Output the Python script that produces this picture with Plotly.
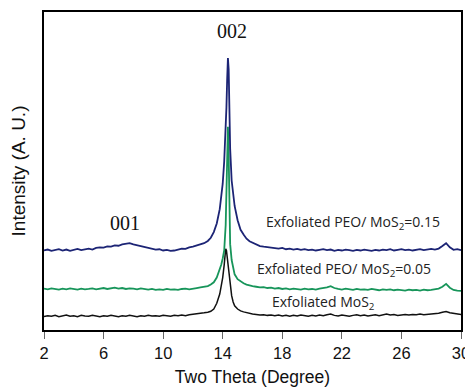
import plotly.graph_objects as go

# Two-theta grid (degrees)
two_theta = [
    2.0, 2.25, 2.5, 2.75, 3.0, 3.25, 3.5, 3.75, 4.0, 4.25, 4.5, 4.75,
    5.0, 5.25, 5.5, 5.75, 6.0, 6.25, 6.5, 6.75, 7.0, 7.25, 7.5, 7.75,
    8.0, 8.25, 8.5, 8.75, 9.0, 9.25, 9.5, 9.75, 10.0, 10.25, 10.5, 10.75,
    11.0, 11.25, 11.5, 11.75, 12.0, 12.25, 12.5, 12.75,
    13.0, 13.2, 13.4, 13.6, 13.8, 13.9, 14.0, 14.1, 14.2, 14.25, 14.3, 14.35,
    14.4, 14.45, 14.5, 14.6, 14.7, 14.8, 15.0, 15.2, 15.4, 15.6, 15.8,
    16.0, 16.25, 16.5, 16.75, 17.0, 17.25, 17.5, 17.75, 18.0, 18.25, 18.5, 18.75,
    19.0, 19.25, 19.5, 19.75, 20.0, 20.25, 20.5, 20.75, 21.0, 21.25, 21.5, 21.75,
    22.0, 22.25, 22.5, 22.75, 23.0, 23.25, 23.5, 23.75, 24.0, 24.25, 24.5, 24.75,
    25.0, 25.25, 25.5, 25.75, 26.0, 26.25, 26.5, 26.75, 27.0, 27.25, 27.5, 27.75,
    28.0, 28.25, 28.5, 28.75, 29.0, 29.25, 29.5, 29.75, 30.0,
]

# Exfoliated PEO/ MoS2 = 0.15 (offset trace, arbitrary units)
peo_015 = [
    25.0, 25.3, 24.9, 25.2, 25.4, 25.0, 25.3, 24.9, 25.2, 25.5, 25.1, 25.4,
    25.6, 25.3, 25.8, 26.0, 25.9, 26.3, 26.2, 26.6, 26.5, 26.9, 27.0, 27.3,
    26.9, 26.6, 26.4, 26.0, 25.8, 25.5, 25.3, 25.4, 25.0, 25.2, 24.9, 25.0,
    25.3, 25.6, 25.5, 26.0, 26.2, 26.5, 26.8, 27.3,
    28.0, 29.0, 30.8, 33.5, 38.0, 41.5, 46.0, 53.0, 62.0, 70.0, 79.0, 85.5,
    82.0, 70.0, 57.0, 47.0, 42.0, 39.0, 34.5, 31.5, 30.0, 28.7, 27.9,
    27.4, 26.8, 26.4, 26.2, 26.1, 25.8, 25.9, 25.6, 25.8, 25.4, 25.6, 25.3,
    25.5, 25.2, 25.4, 25.1, 25.3, 25.0, 25.2, 25.4, 25.1, 25.3, 24.9, 25.2,
    25.0, 25.3, 25.1, 24.9, 25.2, 25.0, 25.3, 25.1, 24.9, 25.2, 25.0, 25.3,
    25.1, 25.4, 25.0, 25.2, 25.4, 25.1, 25.3, 25.0, 25.2, 25.4, 25.1, 25.3,
    25.5, 25.3, 25.6, 26.4, 27.3, 26.0, 25.2, 25.4, 25.1,
]

# Exfoliated PEO/ MoS2 = 0.05
peo_005 = [
    13.0, 12.8, 13.1, 12.9, 12.7, 13.0, 12.8, 13.1, 12.9, 12.7, 13.0, 12.8,
    12.9, 13.1, 12.8, 13.0, 13.2, 12.9, 13.1, 13.3, 13.0, 13.2, 12.9, 13.1,
    13.0, 12.8, 13.1, 12.9, 12.7, 12.9, 12.6, 12.8, 12.6, 12.9, 12.7, 12.8,
    12.6, 12.9, 13.0, 12.8, 13.1, 13.2, 13.4, 13.6,
    13.8, 14.3, 15.0, 16.5, 19.0, 20.5, 22.5, 25.0, 33.0, 42.0, 55.0, 63.9,
    55.0, 38.0, 27.0, 22.0, 19.0, 17.5, 16.0, 15.2, 14.7, 14.3, 14.0,
    13.8, 13.6, 13.4, 13.5, 13.2, 13.3, 13.0, 13.2, 12.9, 13.1, 12.8, 13.0,
    12.9, 12.7, 13.0, 12.8, 12.9, 12.7, 13.0, 13.1, 13.4, 13.8, 13.2, 12.9,
    12.7, 13.0, 12.8, 12.6, 12.9, 12.7, 12.8, 12.6, 12.9, 12.7, 12.5, 12.8,
    12.6, 12.8, 12.5, 12.7, 12.6, 12.4, 12.7, 12.5, 12.6, 12.4, 12.7, 12.5,
    12.6, 12.8, 13.0, 13.6, 14.5, 13.3, 12.6, 12.4, 12.3,
]

# Exfoliated MoS2
mos2 = [
    4.2, 4.5, 4.3, 4.6, 4.2, 4.4, 4.7, 4.3, 4.5, 4.2, 4.6, 4.4,
    4.3, 4.6, 4.4, 4.2, 4.5, 4.3, 4.6, 4.4, 4.2, 4.5, 4.3, 4.6,
    4.4, 4.2, 4.5, 4.3, 4.6, 4.4, 4.5, 4.3, 4.6, 4.4, 4.3, 4.6,
    4.5, 4.7, 4.5, 4.8, 4.9, 5.1, 5.2, 5.4,
    5.6, 5.9, 6.6, 8.4, 11.3, 13.5, 16.5, 20.5, 25.5, 25.0, 23.0, 21.0,
    18.5, 16.5, 14.5, 10.8, 8.8, 7.6, 6.6, 6.0, 5.7, 5.4, 5.2,
    5.0, 4.9, 4.7, 4.8, 4.6, 4.7, 4.5, 4.7, 4.4, 4.6, 4.3, 4.6,
    4.4, 4.7, 4.5, 4.3, 4.6, 4.4, 4.7, 4.5, 4.8, 5.0, 4.6, 4.4,
    4.7, 4.5, 4.3, 4.6, 4.8, 4.5, 4.7, 4.4, 4.6, 4.8, 4.5, 4.7,
    5.0, 4.7, 4.9, 4.6, 4.8, 4.9, 4.7, 4.9, 4.8, 5.0, 4.8, 4.9,
    5.0, 5.1, 5.3, 5.6, 5.8, 5.4, 5.2, 5.0, 4.9,
]

x_ticks = [2, 6, 10, 14, 18, 22, 26, 30]

fig = go.Figure()
fig.add_trace(go.Scatter(x=two_theta, y=mos2, mode="lines",
                         line=dict(color="#111111", width=1.5), name="Exfoliated MoS2"))
fig.add_trace(go.Scatter(x=two_theta, y=peo_005, mode="lines",
                         line=dict(color="#17955a", width=1.8), name="PEO/MoS2=0.05"))
fig.add_trace(go.Scatter(x=two_theta, y=peo_015, mode="lines",
                         line=dict(color="#1c2475", width=1.8), name="PEO/MoS2=0.15"))

sans = "Liberation Sans, Arial, sans-serif"
serif = "Liberation Serif, Times New Roman, serif"
lab = "Open Sans, sans-serif"

annos = [
    dict(x=14.6, y=94.1, text="002", font=dict(family=serif, size=20, color="#111")),
    dict(x=7.45, y=33.8, text="001", font=dict(family=serif, size=20, color="#111")),
    dict(x=22.75, y=33.8, text="Exfoliated PEO/ MoS<sub>2</sub>=0.15",
         font=dict(family=lab, size=14, color="#222")),
    dict(x=22.15, y=18.9, text="Exfoliated PEO/ MoS<sub>2</sub>=0.05",
         font=dict(family=lab, size=14, color="#222")),
    dict(x=20.77, y=8.7, text="Exfoliated MoS<sub>2</sub>",
         font=dict(family=lab, size=14, color="#222")),
]
for a in annos:
    a.update(xref="x", yref="y", showarrow=False, xanchor="center", yanchor="middle")

# the page body adds an 8 px offset; the figure is sized to fill the rest of the window
fig.update_layout(
    width=465, height=381,
    margin=dict(l=36, r=12, t=2, b=59),
    paper_bgcolor="white", plot_bgcolor="white",
    showlegend=False,
    annotations=annos,
    xaxis=dict(
        range=[2, 30], tickmode="array", tickvals=x_ticks,
        ticktext=[str(v) for v in x_ticks],
        showgrid=False, zeroline=False,
        showline=True, linecolor="black", linewidth=2, mirror=True,
        ticks="outside", ticklen=7, tickwidth=1.2, tickcolor="#666",
        tickfont=dict(family=sans, size=16.5, color="#111"),
        title=dict(text="Two Theta (Degree)", font=dict(family=sans, size=17.5, color="#111"),
                   standoff=10),
    ),
    yaxis=dict(
        range=[0, 100], showticklabels=False, ticks="",
        showgrid=False, zeroline=False,
        showline=True, linecolor="black", linewidth=2, mirror=True,
        title=dict(text="Intensity (A. U.)", font=dict(family=sans, size=19, color="#111"),
                   standoff=12),
    ),
)

fig.write_html("out.html")
